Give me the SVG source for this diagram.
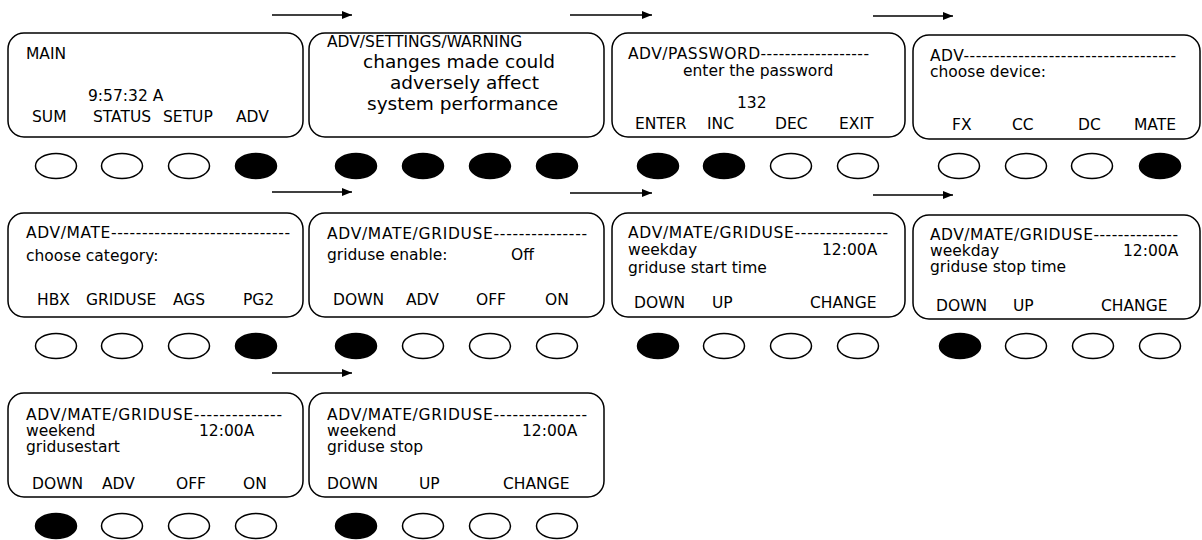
<svg xmlns="http://www.w3.org/2000/svg" width="1202" height="540" viewBox="0 0 1202 540">
<style>
.panel{fill:#fff;stroke:#000;stroke-width:1.5}
.t{font-family:"DejaVu Sans",Verdana,sans-serif;font-size:15.5px;fill:#000}
.w{font-family:"DejaVu Sans",Verdana,sans-serif;font-size:18.5px;fill:#000}
.off{fill:#fff;stroke:#000;stroke-width:1.5}
.on{fill:#000;stroke:#000;stroke-width:1.5}
.arr{stroke:#000;stroke-width:1.4;fill:none;marker-end:url(#ah)}
</style>
<defs>
<marker id="ah" viewBox="0 0 10 8" refX="10" refY="4" markerWidth="10" markerHeight="8" markerUnits="userSpaceOnUse" orient="auto">
<path d="M0,0 L10,4 L0,8 Z" fill="#000"/>
</marker>
</defs>
<rect width="1202" height="540" fill="#fff"/>

<g id="connectors">
<line class="arr" x1="272" y1="15" x2="352" y2="15"/>
<line class="arr" x1="570" y1="15" x2="652" y2="15"/>
<line class="arr" x1="873" y1="16" x2="953" y2="16"/>
<line class="arr" x1="272" y1="192" x2="352" y2="192"/>
<line class="arr" x1="570" y1="193" x2="652" y2="193"/>
<line class="arr" x1="873" y1="195" x2="953" y2="195"/>
<line class="arr" x1="272" y1="373" x2="352" y2="373"/>
</g>

<g id="main">
<rect class="panel" x="8" y="33" width="295" height="104" rx="16"/>
<text class="t" x="26" y="59">MAIN</text>
<text class="t" x="88" y="101">9:57:32 A</text>
<text class="t" x="32" y="122">SUM</text>
<text class="t" x="93" y="122">STATUS</text>
<text class="t" x="163" y="122">SETUP</text>
<text class="t" x="236" y="122">ADV</text>
<ellipse class="off" cx="56" cy="166" rx="20.5" ry="12.5"/>
<ellipse class="off" cx="122" cy="166" rx="20.5" ry="12.5"/>
<ellipse class="off" cx="189" cy="166" rx="20.5" ry="12.5"/>
<ellipse class="on" cx="256" cy="166" rx="20.5" ry="12.5"/>
</g>

<g id="adv-settings-warning">
<rect class="panel" x="309" y="33" width="295" height="104" rx="16"/>
<text class="t" x="327" y="47" font-size="16">ADV/SETTINGS/WARNING</text>
<text class="w" x="363" y="68">changes made could</text>
<text class="w" x="390" y="89">adversely affect</text>
<text class="w" x="367" y="110">system performance</text>
<ellipse class="on" cx="356" cy="166" rx="20.5" ry="12.5"/>
<ellipse class="on" cx="423" cy="166" rx="20.5" ry="12.5"/>
<ellipse class="on" cx="490" cy="166" rx="20.5" ry="12.5"/>
<ellipse class="on" cx="557" cy="166" rx="20.5" ry="12.5"/>
</g>

<g id="adv-password">
<rect class="panel" x="612" y="33" width="293" height="104" rx="16"/>
<text class="t" x="628" y="59" textLength="241" lengthAdjust="spacing">ADV/PASSWORD------------------</text>
<text class="t" x="683" y="76">enter the password</text>
<text class="t" x="737" y="108">132</text>
<text class="t" x="635" y="129">ENTER</text>
<text class="t" x="707" y="129">INC</text>
<text class="t" x="775" y="129">DEC</text>
<text class="t" x="839" y="129">EXIT</text>
<ellipse class="on" cx="658" cy="166" rx="20.5" ry="12.5"/>
<ellipse class="on" cx="724" cy="166" rx="20.5" ry="12.5"/>
<ellipse class="off" cx="791" cy="166" rx="20.5" ry="12.5"/>
<ellipse class="off" cx="858" cy="166" rx="20.5" ry="12.5"/>
</g>

<g id="adv-device">
<rect class="panel" x="913" y="35" width="287" height="104" rx="16"/>
<text class="t" x="930" y="61" textLength="246" lengthAdjust="spacing">ADV-----------------------------------</text>
<text class="t" x="930" y="77">choose device:</text>
<text class="t" x="952" y="130">FX</text>
<text class="t" x="1012" y="130">CC</text>
<text class="t" x="1078" y="130">DC</text>
<text class="t" x="1134" y="130">MATE</text>
<ellipse class="off" cx="959" cy="166" rx="20.5" ry="12.5"/>
<ellipse class="off" cx="1026" cy="166" rx="20.5" ry="12.5"/>
<ellipse class="off" cx="1092" cy="166" rx="20.5" ry="12.5"/>
<ellipse class="on" cx="1160" cy="166" rx="20.5" ry="12.5"/>
</g>

<g id="adv-mate">
<rect class="panel" x="8" y="213" width="295" height="104" rx="16"/>
<text class="t" x="26" y="238" textLength="264" lengthAdjust="spacing">ADV/MATE-----------------------------</text>
<text class="t" x="26" y="261">choose category:</text>
<text class="t" x="37" y="305">HBX</text>
<text class="t" x="86" y="305">GRIDUSE</text>
<text class="t" x="173" y="305">AGS</text>
<text class="t" x="243" y="305">PG2</text>
<ellipse class="off" cx="56" cy="346" rx="20.5" ry="12.5"/>
<ellipse class="off" cx="122" cy="346" rx="20.5" ry="12.5"/>
<ellipse class="off" cx="189" cy="346" rx="20.5" ry="12.5"/>
<ellipse class="on" cx="256" cy="346" rx="20.5" ry="12.5"/>
</g>

<g id="griduse-enable">
<rect class="panel" x="309" y="213" width="295" height="104" rx="16"/>
<text class="t" x="327" y="239" textLength="260" lengthAdjust="spacing">ADV/MATE/GRIDUSE---------------</text>
<text class="t" x="327" y="260">griduse enable:</text>
<text class="t" x="511" y="260">Off</text>
<text class="t" x="333" y="305">DOWN</text>
<text class="t" x="406" y="305">ADV</text>
<text class="t" x="476" y="305">OFF</text>
<text class="t" x="545" y="305">ON</text>
<ellipse class="on" cx="356" cy="346" rx="20.5" ry="12.5"/>
<ellipse class="off" cx="423" cy="346" rx="20.5" ry="12.5"/>
<ellipse class="off" cx="490" cy="346" rx="20.5" ry="12.5"/>
<ellipse class="off" cx="557" cy="346" rx="20.5" ry="12.5"/>
</g>

<g id="weekday-start">
<rect class="panel" x="612" y="213" width="293" height="104" rx="16"/>
<text class="t" x="628" y="238" textLength="260" lengthAdjust="spacing">ADV/MATE/GRIDUSE---------------</text>
<text class="t" x="628" y="255">weekday</text>
<text class="t" x="822" y="255">12:00A</text>
<text class="t" x="628" y="273">griduse start time</text>
<text class="t" x="634" y="308">DOWN</text>
<text class="t" x="712" y="308">UP</text>
<text class="t" x="810" y="308">CHANGE</text>
<ellipse class="on" cx="658" cy="346" rx="20.5" ry="12.5"/>
<ellipse class="off" cx="724" cy="346" rx="20.5" ry="12.5"/>
<ellipse class="off" cx="791" cy="346" rx="20.5" ry="12.5"/>
<ellipse class="off" cx="858" cy="346" rx="20.5" ry="12.5"/>
</g>

<g id="weekday-stop">
<rect class="panel" x="913" y="215" width="287" height="104" rx="16"/>
<text class="t" x="930" y="240" textLength="248" lengthAdjust="spacing">ADV/MATE/GRIDUSE--------------</text>
<text class="t" x="930" y="256">weekday</text>
<text class="t" x="1123" y="256">12:00A</text>
<text class="t" x="930" y="272">griduse stop time</text>
<text class="t" x="936" y="311">DOWN</text>
<text class="t" x="1013" y="311">UP</text>
<text class="t" x="1101" y="311">CHANGE</text>
<ellipse class="on" cx="960" cy="346" rx="20.5" ry="12.5"/>
<ellipse class="off" cx="1026" cy="346" rx="20.5" ry="12.5"/>
<ellipse class="off" cx="1093" cy="346" rx="20.5" ry="12.5"/>
<ellipse class="off" cx="1160" cy="346" rx="20.5" ry="12.5"/>
</g>

<g id="weekend-start">
<rect class="panel" x="8" y="393" width="295" height="104" rx="16"/>
<text class="t" x="26" y="420" textLength="256" lengthAdjust="spacing">ADV/MATE/GRIDUSE--------------</text>
<text class="t" x="26" y="436">weekend</text>
<text class="t" x="199" y="436">12:00A</text>
<text class="t" x="26" y="452">gridusestart</text>
<text class="t" x="32" y="489">DOWN</text>
<text class="t" x="102" y="489">ADV</text>
<text class="t" x="176" y="489">OFF</text>
<text class="t" x="243" y="489">ON</text>
<ellipse class="on" cx="56" cy="526" rx="20.5" ry="12.5"/>
<ellipse class="off" cx="122" cy="526" rx="20.5" ry="12.5"/>
<ellipse class="off" cx="189" cy="526" rx="20.5" ry="12.5"/>
<ellipse class="off" cx="256" cy="526" rx="20.5" ry="12.5"/>
</g>

<g id="weekend-stop">
<rect class="panel" x="309" y="393" width="295" height="104" rx="16"/>
<text class="t" x="327" y="420" textLength="260" lengthAdjust="spacing">ADV/MATE/GRIDUSE---------------</text>
<text class="t" x="327" y="436">weekend</text>
<text class="t" x="522" y="436">12:00A</text>
<text class="t" x="327" y="452">griduse stop</text>
<text class="t" x="327" y="489">DOWN</text>
<text class="t" x="419" y="489">UP</text>
<text class="t" x="503" y="489">CHANGE</text>
<ellipse class="on" cx="356" cy="526" rx="20.5" ry="12.5"/>
<ellipse class="off" cx="423" cy="526" rx="20.5" ry="12.5"/>
<ellipse class="off" cx="490" cy="526" rx="20.5" ry="12.5"/>
<ellipse class="off" cx="557" cy="526" rx="20.5" ry="12.5"/>
</g>
</svg>
